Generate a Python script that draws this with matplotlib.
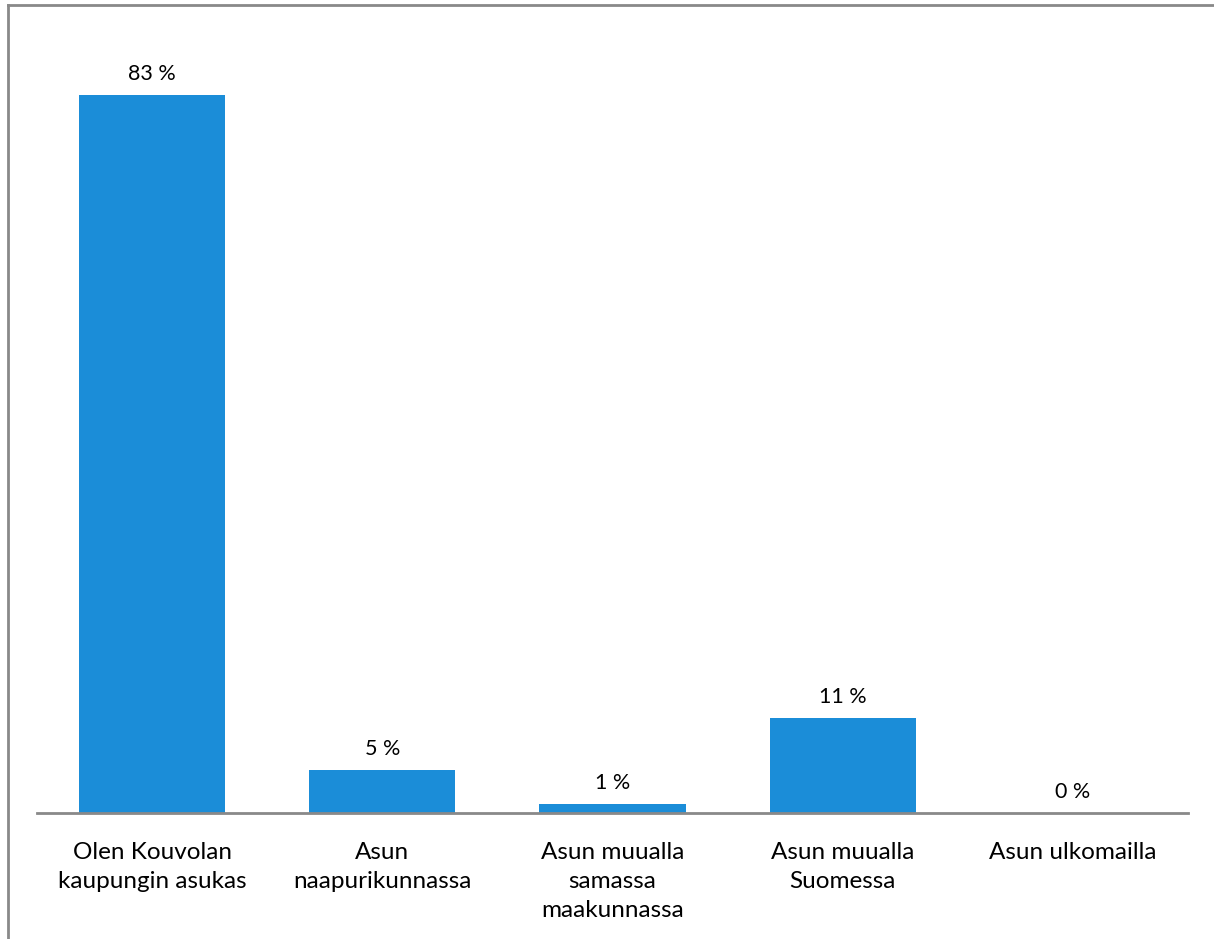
import matplotlib.pyplot as plt
from matplotlib.lines import Line2D

categories = [
    "Olen Kouvolan\nkaupungin asukas",
    "Asun\nnaapurikunnassa",
    "Asun muualla\nsamassa\nmaakunnassa",
    "Asun muualla\nSuomessa",
    "Asun ulkomailla",
]
values = [83, 5, 1, 11, 0]
labels = ["83 %", "5 %", "1 %", "11 %", "0 %"]

plt.rcParams["font.family"] = ["Lato", "DejaVu Sans"]

W, H = 1214, 939
fig = plt.figure(figsize=(W / 100, H / 100), dpi=100)
ax = fig.add_axes([37 / W, (H - 813) / H, (1188 - 37) / W, (813 - 34.5) / H])

x = range(len(categories))
bars = ax.bar(x, values, width=0.635, color="#1b8dd8")
ax.set_xlim(-0.5, len(categories) - 0.5)
ax.set_ylim(0, 90)

for b, lab in zip(bars, labels):
    ax.annotate(lab, (b.get_x() + b.get_width() / 2, b.get_height()),
                xytext=(0, 8), textcoords="offset points",
                ha="center", va="bottom", fontsize=15.5, color="#000000")

ax.set_xticks(list(x))
ax.set_xticklabels(categories, fontsize=17.5, linespacing=1.48)
ax.tick_params(axis="x", length=0, pad=21)
ax.set_yticks([])
for s in ["top", "right", "left"]:
    ax.spines[s].set_visible(False)
ax.spines["bottom"].set_color("#898989")
ax.spines["bottom"].set_linewidth(2)

# outer chart border (top and left visible)
fig.add_artist(Line2D([8 / W, 8 / W], [0, 1 - 5 / H], color="#898989", lw=2))
fig.add_artist(Line2D([8 / W, 1], [1 - 5 / H, 1 - 5 / H], color="#898989", lw=2))

fig.savefig("out.png", dpi=100)
